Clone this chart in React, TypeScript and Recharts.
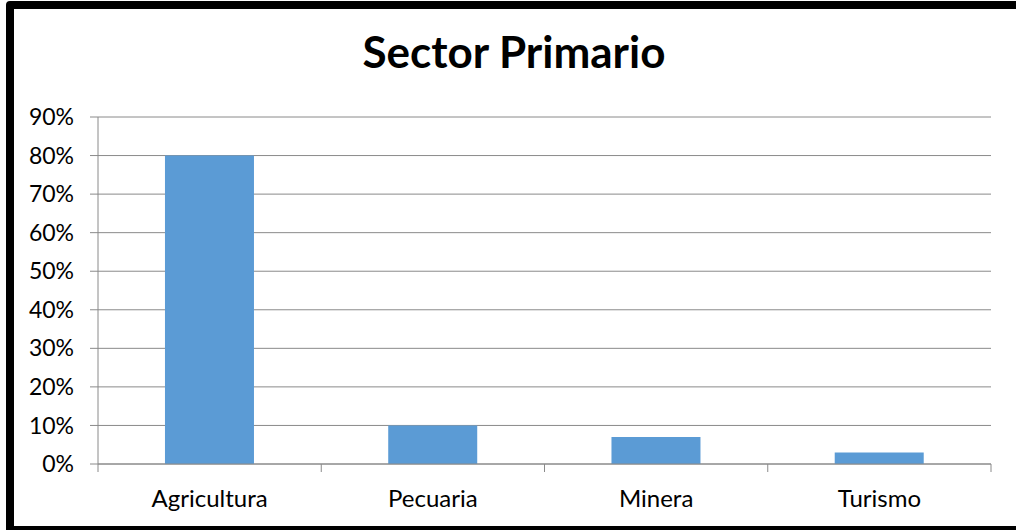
import { Bar, BarChart, CartesianGrid, XAxis, YAxis } from "recharts";

const categories = ["Agricultura", "Pecuaria", "Minera", "Turismo"];
const shares = [80, 10, 7, 3];
const yTicks = [0, 10, 20, 30, 40, 50, 60, 70, 80, 90];

const data = categories.map((name, i) => ({ name, value: shares[i] }));

const FONT = "Lato, 'Open Sans', sans-serif";
const GRID = "#8a8a8a";
const LABEL_GAP = 26;

// label plus the tick marks that Excel puts between categories
const CategoryTick = (props: any) => {
  const { x, y, payload, index } = props;
  const half = payload?.offset ?? 0;
  const axisY = y - LABEL_GAP;
  return (
    <g>
      <line x1={x - half} x2={x - half} y1={axisY} y2={axisY + 8} stroke={GRID} />
      {index === categories.length - 1 && (
        <line x1={x + half} x2={x + half} y1={axisY} y2={axisY + 8} stroke={GRID} />
      )}
      <text
        x={x}
        y={y}
        dy="0.71em"
        textAnchor="middle"
        fill="#000"
        fontSize={24}
        fontFamily={FONT}
      >
        {payload.value}
      </text>
    </g>
  );
};

const App = () => {
  return (
    <div
      style={{
        position: "absolute",
        top: 0,
        left: 0,
        width: 1016,
        height: 530,
        overflow: "hidden",
        background: "#fff",
        fontFamily: FONT,
      }}
    >
      {/* frame, right edge runs off the picture */}
      <div
        style={{
          position: "absolute",
          left: 6,
          top: 1,
          width: 1040,
          height: 533,
          boxSizing: "border-box",
          border: "8px solid #000",
          borderRadius: 4,
        }}
      />
      <div
        style={{
          position: "absolute",
          left: 0,
          width: 1028,
          top: 29,
          textAlign: "center",
          fontSize: 44,
          lineHeight: "44px",
          fontWeight: 700,
          color: "#000",
        }}
      >
        Sector Primario
      </div>
      <div style={{ position: "absolute", left: 0, top: 0 }}>
        <BarChart
          width={1016}
          height={530}
          data={data}
          margin={{ top: 117, right: 25, left: 0, bottom: 26 }}
          barCategoryGap="30%"
        >
          <CartesianGrid vertical={false} stroke={GRID} strokeWidth={1} />
          <XAxis
            dataKey="name"
            height={40}
            axisLine={{ stroke: GRID }}
            tickLine={false}
            tickSize={0}
            tickMargin={LABEL_GAP}
            interval={0}
            tick={<CategoryTick />}
          />
          <YAxis
            width={98}
            domain={[0, 90]}
            ticks={yTicks}
            interval={0}
            tickFormatter={(v) => `${v}%`}
            axisLine={{ stroke: GRID }}
            tickLine={{ stroke: GRID }}
            tickSize={8}
            tickMargin={16}
            tick={{ fill: "#000", fontSize: 23, fontFamily: FONT }}
          />
          <Bar dataKey="value" fill="#5B9BD5" isAnimationActive={false} />
        </BarChart>
      </div>
    </div>
  );
};

export default App;
